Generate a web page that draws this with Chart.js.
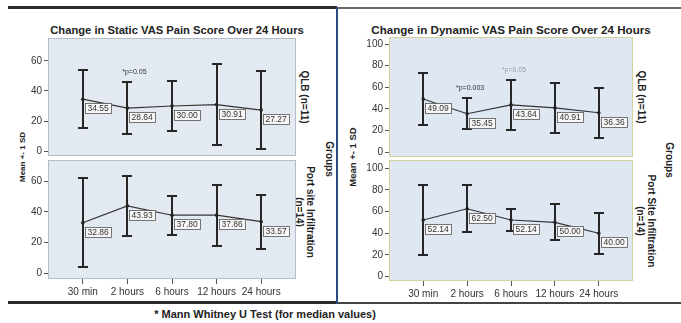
<!DOCTYPE html>
<html>
<head>
<meta charset="utf-8">
<script src="https://cdn.jsdelivr.net/npm/chart.js@4.4.1/dist/chart.umd.min.js"></script>
<style>
  body { margin: 0; width: 681px; height: 323px; background: #fff; position: relative; overflow: hidden;
         font-family: "Liberation Sans", Arial, sans-serif; }
  canvas { position: absolute; }
  .t { position: absolute; white-space: nowrap; color: #222; }
  .rot { transform: translate(-50%, -50%) rotate(90deg); text-align: center; line-height: 1.1; }
  .rotl { transform: translate(-50%, -50%) rotate(-90deg); }
  .ln { position: absolute; }
</style>
</head>
<body>
<div class="ln" style="left:8px;top:6px;width:329px;height:3px;background:#2b2b2b"></div>
<div class="ln" style="left:337px;top:7px;width:344px;height:2px;background:#666"></div>
<div class="ln" style="left:8px;top:301px;width:329px;height:3px;background:#2b2b2b"></div>
<div class="ln" style="left:337px;top:302px;width:344px;height:2px;background:#444"></div>
<div class="ln" style="left:336px;top:7px;width:2px;height:297px;background:#2c4c80"></div>

<div class="t" style="left:177px;top:30px;transform:translate(-50%,-50%);font-weight:bold;font-size:11.2px">Change in Static VAS Pain Score Over 24 Hours</div>
<div class="t" style="left:511px;top:29px;transform:translate(-50%,-50%);font-weight:bold;font-size:11.6px">Change in Dynamic VAS Pain Score Over 24 Hours</div>

<div class="t rotl" style="left:22px;top:157px;font-weight:bold;font-size:8px">Mean +- 1 SD</div>
<div class="t rotl" style="left:352px;top:157px;font-weight:bold;font-size:9.5px">Mean +- 1 SD</div>

<div class="t rot" style="left:304px;top:97px;font-weight:bold;font-size:10px">QLB (n=11)</div>
<div class="t rot" style="left:305px;top:212px;font-weight:bold;font-size:10px">Port site Infiltration<br>(n=14)</div>
<div class="t rot" style="left:329px;top:159px;font-weight:bold;font-size:10px">Groups</div>

<div class="t rot" style="left:641px;top:97px;font-weight:bold;font-size:10px">QLB (n=11)</div>
<div class="t rot" style="left:646px;top:221px;font-weight:bold;font-size:10px">Port Site Infiltration<br>(n=14)</div>
<div class="t rot" style="left:669px;top:160px;font-weight:bold;font-size:10px">Groups</div>

<div class="t" style="left:265px;top:314px;transform:translate(-50%,-50%);font-weight:bold;font-size:11px">* Mann Whitney U Test (for median values)</div>

<canvas id="staticQlb"></canvas>
<canvas id="staticPort"></canvas>
<canvas id="dynamicQlb"></canvas>
<canvas id="dynamicPort"></canvas>

<script>
const timePoints = ['30 min', '2 hours', '6 hours', '12 hours', '24 hours'];

const staticQlbMean = [34.55, 28.64, 30.00, 30.91, 27.27];
const staticQlbSd = [19.5, 17.3, 16.7, 27.0, 26.0];
const staticPortMean = [32.86, 43.93, 37.80, 37.86, 33.57];
const staticPortSd = [29.0, 19.7, 12.8, 20.0, 17.6];

const dynamicQlbMean = [49.09, 35.45, 43.64, 40.91, 36.36];
const dynamicQlbSd = [24.0, 14.5, 23.0, 23.0, 23.0];
const dynamicPortMean = [52.14, 62.50, 52.14, 50.00, 40.00];
const dynamicPortSd = [32.0, 21.5, 10.5, 16.5, 19.0];

const staticTicks = [0, 20, 40, 60];
const dynamicTicks = [0, 20, 40, 60, 80, 100];

const staticQlbNotes = ['', '*p=0.05', '', '', ''];
const dynamicQlbNotes = ['', '*p=0.003', '*p=0.05', '', ''];
const noNotes = ['', '', '', '', ''];

const Y_AXIS_W = 30, X_AXIS_H = 20;

function makeChart(id, rect, area, yMin, yMax, yTicks, means, sds, notes, showX, look) {
    const cv = document.getElementById(id);
    cv.width = rect.w; cv.height = rect.h;
    cv.style.left = rect.x + 'px'; cv.style.top = rect.y + 'px';

    const panel = {
        id: 'panel_' + id,
        beforeDatasetsDraw(chart) {
            const { ctx, chartArea: a, scales: { x, y } } = chart;
            ctx.save();
            ctx.fillStyle = look.bg;
            ctx.fillRect(a.left, a.top, a.right - a.left, a.bottom - a.top);
            ctx.strokeStyle = look.frame;
            ctx.lineWidth = 1;
            ctx.strokeRect(a.left + 0.5, a.top + 0.5, a.right - a.left - 1, a.bottom - a.top - 1);
            // error bars, mean +- 1 SD
            ctx.strokeStyle = '#262626';
            ctx.lineWidth = 2;
            means.forEach((m, i) => {
                const px = Math.round(x.getPixelForValue(i));
                const hi = Math.round(y.getPixelForValue(m + sds[i]));
                const lo = Math.round(y.getPixelForValue(m - sds[i]));
                ctx.beginPath();
                ctx.moveTo(px, hi); ctx.lineTo(px, lo);
                ctx.moveTo(px - 5, hi); ctx.lineTo(px + 5, hi);
                ctx.moveTo(px - 5, lo); ctx.lineTo(px + 5, lo);
                ctx.stroke();
            });
            ctx.restore();
        },
        afterDatasetsDraw(chart) {
            const { ctx, scales: { x, y } } = chart;
            ctx.save();
            ctx.textBaseline = 'middle';
            means.forEach((m, i) => {
                const px = x.getPixelForValue(i);
                const py = y.getPixelForValue(m);
                const label = m.toFixed(2);
                ctx.font = '8.5px "Liberation Sans", Arial, sans-serif';
                const w = Math.ceil(ctx.measureText(label).width) + 4;
                const bx = Math.round(px + 2) + 0.5, by = Math.round(py + 4) + 0.5;
                ctx.fillStyle = '#f7f7f7';
                ctx.fillRect(bx, by, w, 10);
                ctx.strokeStyle = '#555';
                ctx.lineWidth = 0.8;
                ctx.strokeRect(bx, by, w, 10);
                ctx.fillStyle = '#333';
                ctx.textAlign = 'left';
                ctx.fillText(label, bx + 2, by + 5.5);

                if (notes[i]) {
                    const top = y.getPixelForValue(m + sds[i]);
                    ctx.font = '7px "Liberation Sans", Arial, sans-serif';
                    ctx.textAlign = 'center';
                    ctx.fillStyle = i === 2 ? '#9aa0a8' : '#333';
                    ctx.fillText(notes[i], px + look.noteDx, top - 10);
                }
            });
            ctx.restore();
        }
    };

    return new Chart(cv, {
        type: 'line',
        data: {
            datasets: [{
                data: means.map((v, i) => ({ x: i, y: v })),
                borderColor: '#333',
                borderWidth: 1.2,
                pointRadius: 1.8,
                pointBackgroundColor: '#222',
                pointBorderWidth: 0,
                tension: 0
            }]
        },
        options: {
            responsive: false,
            animation: false,
            layout: {
                autoPadding: false,
                padding: {
                    left: area.l - rect.x - Y_AXIS_W,
                    right: rect.x + rect.w - area.r,
                    top: area.t - rect.y,
                    bottom: rect.y + rect.h - area.b - (showX ? X_AXIS_H : 0)
                }
            },
            plugins: { legend: { display: false }, tooltip: { enabled: false } },
            scales: {
                x: {
                    type: 'linear', min: -0.78, max: 4.78, display: showX,
                    afterBuildTicks: s => { s.ticks = timePoints.map((t, i) => ({ value: i })); },
                    afterFit: s => { if (showX) s.height = X_AXIS_H; s.paddingLeft = 0; s.paddingRight = 0; },
                    grid: { drawOnChartArea: false, tickLength: 5, color: '#555' },
                    border: { display: false },
                    ticks: { callback: v => timePoints[v], font: { size: 10 }, color: '#333', padding: 2, maxRotation: 0, autoSkip: false }
                },
                y: {
                    min: yMin, max: yMax,
                    afterBuildTicks: s => { s.ticks = yTicks.map(v => ({ value: v })); },
                    afterFit: s => { s.width = Y_AXIS_W; s.paddingTop = 0; s.paddingBottom = 0; },
                    grid: { drawOnChartArea: false, tickLength: 4, color: '#555' },
                    border: { display: false },
                    ticks: { font: { size: 10 }, color: '#333', padding: 2 }
                }
            }
        },
        plugins: [panel]
    });
}

const leftLook = { bg: '#e3e9f1', frame: '#b3bcc8', noteDx: 7 };
const rightLook = { bg: '#dfe7f2', frame: '#d2d39c', noteDx: 3 };

makeChart('staticQlb', { x: 8, y: 34, w: 300, h: 126 }, { l: 48, r: 296, t: 38, b: 156 },
    -3.3, 75.3, staticTicks, staticQlbMean, staticQlbSd, staticQlbNotes, false, leftLook);
makeChart('staticPort', { x: 8, y: 158, w: 300, h: 146 }, { l: 48, r: 296, t: 160, b: 279 },
    -3.9, 73.9, staticTicks, staticPortMean, staticPortSd, noNotes, true, leftLook);
makeChart('dynamicQlb', { x: 345, y: 33, w: 300, h: 127 }, { l: 389, r: 633, t: 37, b: 157 },
    -4.6, 106.5, dynamicTicks, dynamicQlbMean, dynamicQlbSd, dynamicQlbNotes, false, rightLook);
makeChart('dynamicPort', { x: 345, y: 158, w: 300, h: 146 }, { l: 389, r: 633, t: 160, b: 281 },
    -4, 107.4, dynamicTicks, dynamicPortMean, dynamicPortSd, noNotes, true, rightLook);
</script>
</body>
</html>
